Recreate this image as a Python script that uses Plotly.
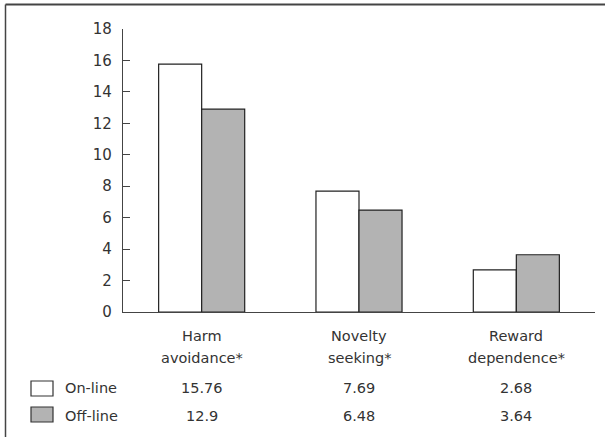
import plotly.graph_objects as go

categories = ["Harm avoidance*", "Novelty seeking*", "Reward dependence*"]
label_line1 = ["Harm", "Novelty", "Reward"]
label_line2 = ["avoidance*", "seeking*", "dependence*"]
online = [15.76, 7.69, 2.68]
offline = [12.9, 6.48, 3.64]
online_txt = ["15.76", "7.69", "2.68"]
offline_txt = ["12.9", "6.48", "3.64"]
series_names = ["On-line", "Off-line"]
y_ticks = [0, 2, 4, 6, 8, 10, 12, 14, 16, 18]

W, H = 605, 437
L, R, T, B = 123, 10, 29, 125
pw, ph = W - L - R, H - T - B


def px(xp):
    return (xp - L) / pw


def py(yp):
    return (H - B - yp) / ph


FONT = "DejaVu Sans"
TXT = "#333333"
GRAY = "#b3b3b3"

fig = go.Figure()
fig.add_trace(go.Bar(x=categories, y=online, name=series_names[0],
                     marker=dict(color="white", line=dict(color="#222222", width=1.2))))
fig.add_trace(go.Bar(x=categories, y=offline, name=series_names[1],
                     marker=dict(color=GRAY, line=dict(color="#222222", width=1.2))))

fig.update_layout(
    width=W, height=H,
    margin=dict(l=L, r=R, t=T, b=B, pad=0),
    paper_bgcolor="white", plot_bgcolor="white",
    barmode="group", bargap=0.453, bargroupgap=0,
    showlegend=False,
    font=dict(family=FONT, color=TXT, size=14),
)
fig.update_xaxes(showticklabels=False, showline=True, linecolor="#444444", linewidth=1.2,
                 ticks="", showgrid=False, zeroline=False)
fig.update_yaxes(range=[0, 18], tickvals=y_ticks, ticks="inside", ticklen=7, tickwidth=1.2,
                 tickcolor="#444444", showline=True, linecolor="#444444", linewidth=1.2,
                 showgrid=False, zeroline=False, ticklabelstandoff=7,
                 tickfont=dict(family=FONT, size=15, color=TXT))

ann = []
for i, c in enumerate(categories):
    ann.append(dict(x=c, xref="x", y=py(336), yref="paper", text=label_line1[i], showarrow=False,
                    xanchor="center", yanchor="middle", font=dict(size=14.5)))
    ann.append(dict(x=c, xref="x", y=py(358), yref="paper", text=label_line2[i], showarrow=False,
                    xanchor="center", yanchor="middle", font=dict(size=14.5)))
    ann.append(dict(x=c, xref="x", y=py(388), yref="paper", text=online_txt[i], showarrow=False,
                    xanchor="center", yanchor="middle", font=dict(size=14.5)))
    ann.append(dict(x=c, xref="x", y=py(416), yref="paper", text=offline_txt[i], showarrow=False,
                    xanchor="center", yanchor="middle", font=dict(size=14.5)))

ann.append(dict(x=px(63), xref="paper", y=py(388), yref="paper", text=series_names[0],
                showarrow=False, xanchor="left", yanchor="middle", font=dict(size=14.5)))
ann.append(dict(x=px(63), xref="paper", y=py(416), yref="paper", text=series_names[1],
                showarrow=False, xanchor="left", yanchor="middle", font=dict(size=14.5)))
fig.update_layout(annotations=ann)

shapes = [
    dict(type="rect", xref="paper", yref="paper", x0=px(31), x1=px(53), y0=py(381), y1=py(396),
         fillcolor="white", line=dict(color="#333333", width=1.2)),
    dict(type="rect", xref="paper", yref="paper", x0=px(31), x1=px(53), y0=py(407), y1=py(422),
         fillcolor=GRAY, line=dict(color="#333333", width=1.2)),
    dict(type="line", xref="paper", yref="paper", x0=px(5.5), x1=px(5.5), y0=py(H), y1=py(4.5),
         line=dict(color="#444444", width=1.5)),
    dict(type="line", xref="paper", yref="paper", x0=px(5.5), x1=px(W), y0=py(4.5), y1=py(4.5),
         line=dict(color="#444444", width=2)),
]
fig.update_layout(shapes=shapes)

fig.write_html("out.html", config={"displayModeBar": False},
               post_script="document.body.style.margin='0';document.body.style.overflow='hidden';")
